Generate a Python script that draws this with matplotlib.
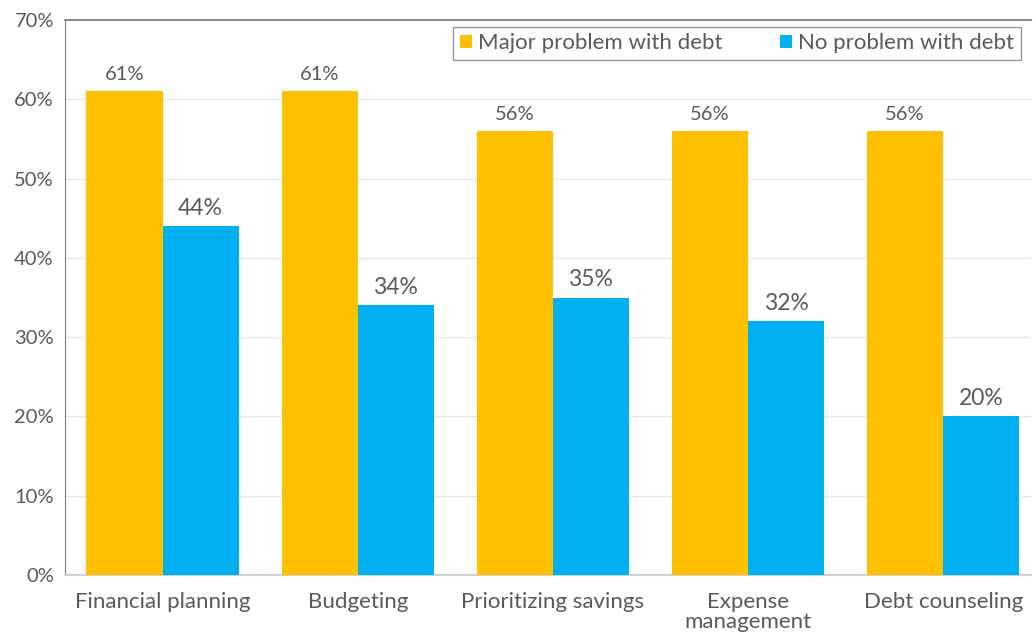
import matplotlib.pyplot as plt
import matplotlib as mpl
import numpy as np

mpl.use("Agg")
plt.rcParams["font.family"] = ["Lato", "DejaVu Sans"]

categories = ["Financial planning", "Budgeting", "Prioritizing savings",
              "Expense\nmanagement", "Debt counseling"]
major = [61, 61, 56, 56, 56]
noprob = [44, 34, 35, 32, 20]
yticks = [0, 10, 20, 30, 40, 50, 60, 70]

orange = "#FFC000"
blue = "#00B0F0"
txt = "#595959"

fig = plt.figure(figsize=(10.36, 6.35), dpi=100)
ax = fig.add_axes([65 / 1036, 60 / 635, 966 / 1036, 555 / 635])

x = np.arange(len(categories))
w = 0.39
b1 = ax.bar(x - w / 2, major, w, color=orange, label="Major problem with debt", zorder=3)
b2 = ax.bar(x + w / 2, noprob, w, color=blue, label="No problem with debt", zorder=3)

for rect, v in zip(b1, major):
    ax.text(rect.get_x() + rect.get_width() / 2, v + 1.0, f"{v}%",
            ha="center", va="bottom", fontsize=14.5, color=txt)
for rect, v in zip(b2, noprob):
    ax.text(rect.get_x() + rect.get_width() / 2, v + 0.9, f"{v}%",
            ha="center", va="bottom", fontsize=16.5, color=txt)

ax.set_xlim(-0.5, 4.45)
ax.set_ylim(0, 70)
ax.set_yticks(yticks)
ax.set_yticklabels([f"{t}%" for t in yticks], fontsize=14.5, color=txt)
ax.set_xticks(x)
ax.set_xticklabels(categories, fontsize=16, color=txt, linespacing=1.05)
ax.tick_params(axis="y", length=0, pad=8)
ax.tick_params(axis="x", length=0, pad=12)

ax.grid(axis="y", color="#e6e6e6", lw=1, zorder=0)
ax.spines["right"].set_visible(False)
ax.spines["top"].set_color("#8c8c8c")
ax.spines["top"].set_linewidth(1.5)
ax.spines["left"].set_color("#7f7f7f")
ax.spines["bottom"].set_color("#d0d0d0")
ax.spines["bottom"].set_linewidth(1.5)

leg = ax.legend(loc="upper right", ncol=2, fontsize=16, frameon=True, fancybox=False,
                edgecolor="#7f7f7f", handlelength=0.55, handleheight=0.55,
                handletextpad=0.25, columnspacing=2.6, borderaxespad=0.4,
                bbox_to_anchor=(0.9985, 1.004), borderpad=0.3)
leg.get_frame().set_linewidth(1.0)
for t in leg.get_texts():
    t.set_color(txt)

plt.savefig("out.png", dpi=100)
